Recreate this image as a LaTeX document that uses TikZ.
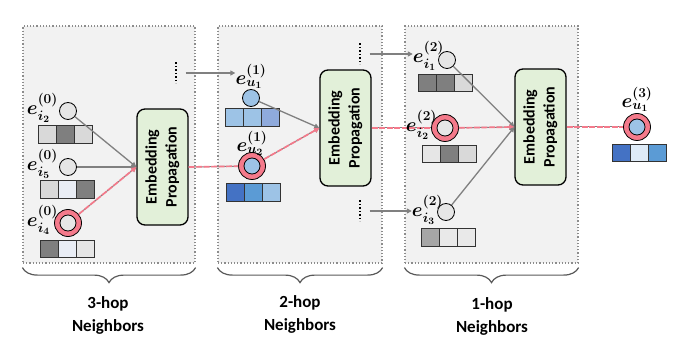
\RequirePackage{fix-cm}
\documentclass[tikz,border=0pt]{standalone}
\usepackage{amsmath,bm}
\usepackage{graphicx}
\usepackage{fontspec}
\setmainfont{Carlito}
\usepackage{tikz}
\usetikzlibrary{arrows.meta,positioning,calc,decorations.pathreplacing}

\definecolor{boxgray}{HTML}{F2F2F2}
\definecolor{framegray}{HTML}{8C8C8C}
\definecolor{arrgray}{HTML}{808080}
\definecolor{bracegray}{HTML}{595959}
\definecolor{pinkc}{HTML}{F47A8B}
\definecolor{epgreen}{HTML}{E2F0D9}
\definecolor{nodegray}{HTML}{E6E6E6}
\definecolor{nodeblue}{HTML}{9DC3E6}
\definecolor{lgray}{HTML}{D9D9D9}
\definecolor{dgray}{HTML}{7F7F7F}
\definecolor{mgray}{HTML}{A6A6A6}
\definecolor{vlgray}{HTML}{E9E9E9}
\definecolor{vlblue}{HTML}{E9EDF5}
\definecolor{bluea}{HTML}{9DC3E6}
\definecolor{blueb}{HTML}{8FAADC}
\definecolor{bluec}{HTML}{4472C4}
\definecolor{blued}{HTML}{5B9BD5}
\definecolor{bluee}{HTML}{DEEBF7}

\newcommand{\eptext}{\rotatebox{90}{\begin{tabular}{@{}c@{}}Embedding\\Propagation\end{tabular}}}

\begin{document}
\begin{tikzpicture}[x=1pt, y=-1pt,
    frame/.style={draw=framegray, dotted, line width=1.2pt, fill=boxgray, inner sep=0},
    ep/.style={draw, line width=1.3pt, rounded corners=8pt, fill=epgreen, minimum width=51, minimum height=116, inner sep=0, font=\fontsize{16}{20}\selectfont\bfseries},
    nd/.style={circle, draw, line width=0.8pt, fill=#1, minimum size=17, inner sep=0},
    ring/.style={circle, draw, line width=0.8pt, fill=pinkc, minimum size=27, inner sep=0,
        path picture={\draw[line width=0.8pt, fill=#1] (path picture bounding box.center) circle (8pt);}},
    cell/.style={draw=black!80, line width=0.8pt, minimum width=18, minimum height=17.5, inner sep=0},
    elbl/.style={font=\fontsize{19.5}{22}\selectfont, inner sep=0},
    dots/.style={minimum width=3, minimum height=21, inner sep=0,
        path picture={\draw[line width=1.3pt, dash pattern=on 1.3pt off 2.2pt] (path picture bounding box.north) -- (path picture bounding box.south);}},
    garr/.style={draw=arrgray, line width=1.3pt, -{Triangle[length=5pt,width=5pt]}},
    pline/.style={draw=pinkc, line width=1.7pt, dash pattern=on 6pt off 1.5pt, preaction={draw=arrgray, line width=1pt, solid}},
    parr/.style={pline, -{Triangle[length=5pt,width=5pt,fill=pinkc]}},
    brc/.style={draw=bracegray, line width=1.2pt, decorate, decoration={brace, mirror, amplitude=15pt}},
    hop/.style={align=center, font=\fontsize{17}{23}\selectfont\bfseries}
]
\useasboundingbox (0,0) rectangle (676,344);

% hop frames
\node[frame, minimum width=172, minimum height=237] (f3) at (109,144.5) {};
\node[frame, minimum width=164, minimum height=237] (f2) at (300,144.5) {};
\node[frame, minimum width=173, minimum height=237] (f1) at (491.5,144.5) {};

% embedding propagation
\node[ep] (ep1) at (162.5,167) {\eptext};
\node[ep] (ep2) at (345.5,128) {\eptext};
\node[ep] (ep3) at (540.5,127) {\eptext};

% 3-hop
\node[nd=nodegray] (ci2) at (68,111) {};
\node[nd=nodegray] (ci5) at (68,167) {};
\node[ring=nodegray] (ci4) at (68,223) {};
\node[dots] (d1) at (176,73) {};

% 2-hop
\node[nd=nodeblue] (cu1) at (251,98) {};
\node[ring=nodeblue] (cu2) at (252,166) {};
\node[dots] (d2) at (360,54) {};
\node[dots] (d3) at (360,211) {};

% 1-hop
\node[nd=nodegray] (ci1) at (447,60) {};
\node[ring=nodegray] (cj2) at (445,128) {};
\node[nd=nodegray] (ci3) at (446,212) {};

% target
\node[ring=nodeblue] (cu3) at (637,127) {};

% embedding vectors
\foreach \n/\x/\y/\ca/\cb/\cc in {
    bi2/38/134.5/lgray/dgray/lgray,
    bi5/40/189.5/lgray/vlblue/dgray,
    bi4/40/249/dgray/vlblue/nodegray,
    bu1/225/117.5/bluea/bluea/blueb,
    bu2/226/192.5/bluec/blued/bluea,
    bj1/418/83/dgray/dgray/lgray,
    bj2/422/154/nodegray/dgray/lgray,
    bj3/421/237.5/mgray/vlgray/vlgray,
    bu3/612/153/bluec/bluee/blued}
  \foreach \col [count=\k] in {\ca,\cb,\cc}
    \node[cell, fill=\col] (\n-\k) at (\x+18*\k-9,\y) {};

% connectors
\draw[garr] (ci2) -- (ep1.west);
\draw[garr] (ci5) -- (ep1.west);
\draw[parr] (ci4) -- (ep1.west);
\draw[pline] (ep1.east) -- (cu2);
\draw[garr] (cu1) -- (ep2.west);
\draw[parr] (cu2) -- (ep2.west);
\draw[pline] (ep2.east) -- (cj2);
\draw[garr] (ci1) -- (ep3.west);
\draw[parr] (cj2) -- (ep3.west);
\draw[garr] (ci3) -- (ep3.west);
\draw[pline] (ep3.east) -- (cu3);

% labels
\node[elbl, left=1pt of ci2, yshift=3pt] (li2) {$\bm{e^{(0)}_{i_2}}$};
\node[elbl, left=1pt of ci5, yshift=3pt] (li5) {$\bm{e^{(0)}_{i_5}}$};
\node[elbl, left=-4pt of ci4, yshift=3pt] (li4) {$\bm{e^{(0)}_{i_4}}$};
\node[elbl, above=0pt of cu1] (lu1) {$\bm{e^{(1)}_{u_1}}$};
\node[elbl, above=-4pt of cu2] (lu2) {$\bm{e^{(1)}_{u_2}}$};
\node[elbl, left=-6pt of ci1, yshift=4pt] (lj1) {$\bm{e^{(2)}_{i_1}}$};
\node[elbl, left=-6pt of cj2, yshift=3pt] (lj2) {$\bm{e^{(2)}_{i_2}}$};
\node[elbl, left=-6pt of ci3, yshift=2pt] (lj3) {$\bm{e^{(2)}_{i_3}}$};
\node[elbl, above=1pt of cu3] (lu3) {$\bm{e^{(3)}_{u_1}}$};

% neighbours arriving from outer hops
\draw[garr, shorten <=8pt] (d1.east) -- (d1.east -| lu1.west);
\draw[garr, shorten <=8pt] (d2.east) -- (d2.east -| lj1.west);
\draw[garr, shorten <=8pt] (d3.east) -- (d3.east -| lj3.west);

% braces
\draw[brc] ([yshift=-4pt]f3.south west) -- ([yshift=-4pt]f3.south east);
\draw[brc] ([yshift=-4pt]f2.south west) -- ([yshift=-4pt]f2.south east);
\draw[brc] ([yshift=-4pt]f1.south west) -- ([yshift=-4pt]f1.south east);
\node[hop] (hop3) at (108,315) {3-hop\\Neighbors};
\node[hop] (hop2) at (300,314) {2-hop\\Neighbors};
\node[hop] (hop1) at (492,316) {1-hop\\Neighbors};
\end{tikzpicture}
\end{document}
